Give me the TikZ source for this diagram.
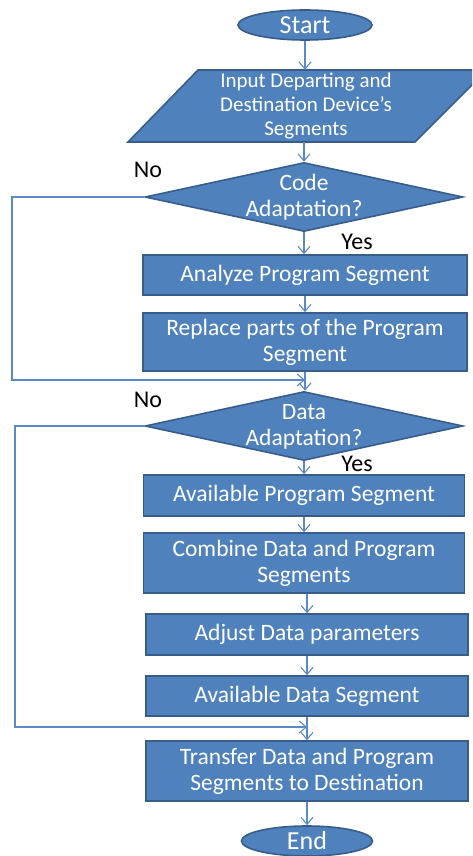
\documentclass[tikz,border=0pt]{standalone}
\usepackage{fontspec}
\setmainfont{Carlito}
\usetikzlibrary{arrows.meta,shapes.geometric}
\definecolor{boxfill}{HTML}{4F81BD}
\definecolor{boxline}{HTML}{385D8A}
\definecolor{conn}{HTML}{5A8AC6}
\tikzset{
  proc/.style={rectangle, draw=boxline, line width=1.6pt, fill=boxfill, text=white, inner sep=0pt, align=center, font=\fontsize{23.5}{26}\selectfont},
  term/.style={ellipse, draw=boxline, line width=1.6pt, fill=boxfill, text=white, inner sep=0pt, font=\fontsize{26}{29}\selectfont},
  decide/.style={diamond, draw=boxline, line width=1.6pt, fill=boxfill, inner sep=0pt, aspect=4.6},
  dtext/.style={text=white, align=center, inner sep=0pt, font=\fontsize{23.5}{26}\selectfont},
  lbl/.style={text=black, inner sep=0pt, font=\fontsize{24}{26}\selectfont},
  flow/.style={draw=conn, line width=1.1pt, -{Straight Barb[length=7pt,width=12pt]}},
  plain/.style={draw=conn, line width=1.1pt}
}
\begin{document}
\begin{tikzpicture}[x=1pt,y=-1pt]
\useasboundingbox (0,0) rectangle (472,856);
\clip (0,0) rectangle (472,856);
% terminals
\node[term, minimum width=134pt, minimum height=30pt] (start) at (305,25) {Start};
% input parallelogram
\filldraw[draw=boxline, line width=1.6pt, fill=boxfill] (128,142) -- (198,70) -- (487,70) -- (415,142) -- cycle;
\node[dtext, font=\fontsize{21}{24}\selectfont, minimum height=72pt, minimum width=200pt] (input) at (306,106) {Input Departing and\\Destination Device’s\\Segments};
% code decision
\node[decide, minimum width=318pt, minimum height=69pt] (code) at (304,197) {};
\node[dtext] (codetxt) at (304,197) {Code\\Adaptation?};
\node[proc, minimum width=324pt, minimum height=40pt] (analyze) at (305,275) {Analyze Program Segment};
\node[proc, minimum width=324pt, minimum height=58pt] (replace) at (305,342) {Replace parts of the Program\\Segment};
% data decision
\node[decide, minimum width=318pt, minimum height=69pt] (data) at (304,426) {};
\node[dtext] (datatxt) at (304,427) {Data\\Adaptation?};
\node[proc, minimum width=321pt, minimum height=41pt] (avprog) at (304,495.5) {Available Program Segment};
\node[proc, minimum width=321pt, minimum height=60pt] (combine) at (304,563) {Combine Data and Program\\Segments};
\node[proc, minimum width=322pt, minimum height=41pt] (adjust) at (307,634.5) {Adjust Data parameters};
\node[proc, minimum width=322pt, minimum height=40pt] (avdata) at (307,696) {Available Data Segment};
\node[proc, minimum width=322pt, minimum height=60pt] (transfer) at (307,771) {Transfer Data and Program\\Segments to Destination};
\node[term, minimum width=131pt, minimum height=30pt] (end) at (307,841) {End};
% labels
\node[lbl] (no1) at (148,170) {No};
\node[lbl] (yes1) at (357,242) {Yes};
\node[lbl] (no2) at (148,400) {No};
\node[lbl] (yes2) at (357,464) {Yes};
% junction coordinates
\coordinate (j1) at (305,380);
\coordinate (j2) at (307,727);
% connectors
\draw[flow] (start.south) -- (start.south |- input.north);
\draw[flow] (input.south -| code.north) -- (code.north);
\draw[flow] (code.south) -- (code.south |- analyze.north);
\draw[flow] (analyze.south) -- (replace.north);
\draw[flow] (replace.south) -- (data.north -| replace.south);
\draw[flow] (code.west) -- (12,197) -- (12,380) -- (j1);
\draw[flow] (data.south) -- (data.south |- avprog.north);
\draw[flow] (avprog.south) -- (avprog.south |- combine.north);
\draw[flow] (combine.south -| adjust.north) -- (adjust.north);
\draw[flow] (adjust.south) -- (avdata.north);
\draw[flow] (avdata.south) -- (transfer.north);
\draw[flow] (data.west) -- (15,426) -- (15,727) -- (j2);
\draw[flow] (transfer.south) -- (end.north);
\end{tikzpicture}
\end{document}
